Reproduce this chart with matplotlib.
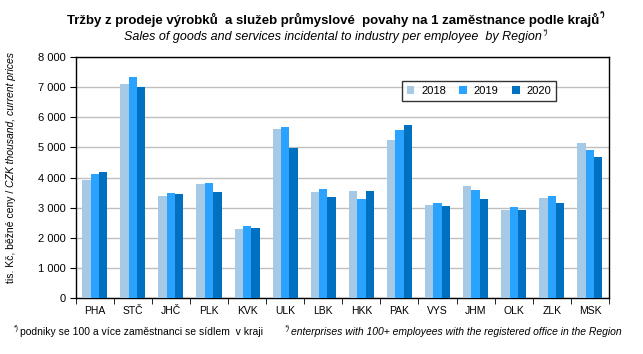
import numpy as np
import matplotlib
matplotlib.use('Agg')
import matplotlib.pyplot as plt

plt.rcParams['font.family'] = ['Liberation Sans', 'DejaVu Sans']

regions = ['PHA', 'STČ', 'JHČ', 'PLK', 'KVK', 'ULK', 'LBK', 'HKK',
           'PAK', 'VYS', 'JHM', 'OLK', 'ZLK', 'MSK']
years = ['2018', '2019', '2020']
v2018 = [3920, 7100, 3390, 3790, 2300, 5610, 3520, 3550, 5240, 3090, 3720, 2920, 3320, 5140]
v2019 = [4120, 7330, 3490, 3820, 2400, 5670, 3620, 3290, 5570, 3160, 3590, 3020, 3390, 4910]
v2020 = [4180, 7000, 3450, 3520, 2330, 4980, 3360, 3550, 5740, 3060, 3290, 2920, 3160, 4680]
colors = ['#A6CAE6', '#29A3FF', '#0070C0']

W, H = 643, 354
fig = plt.figure(figsize=(W / 100, H / 100), dpi=100)
ax = fig.add_axes([0.1177, 0.158, 0.8293, 0.681])

x = np.arange(len(regions))
w = 0.22
for i, (vals, yr) in enumerate(zip([v2018, v2019, v2020], years)):
    ax.bar(x + (i - 1) * w, vals, w, color=colors[i], label=yr, zorder=3)

ax.set_xlim(-0.5, len(regions) - 0.5)
ax.set_ylim(0, 8000)
ax.set_yticks(range(0, 8001, 1000))
ax.set_yticklabels(['{:,}'.format(v).replace(',', ' ') for v in range(0, 8001, 1000)], fontsize=8)
ax.yaxis.grid(True, color='#BFBFBF', linewidth=1, zorder=0)

# category labels centred, ticks between categories
ax.set_xticks(x)
ax.set_xticklabels(regions, fontsize=7.5)
ax.tick_params(axis='x', length=0, pad=6)
ax.set_xticks(np.arange(-0.5, len(regions), 1), minor=True)
ax.tick_params(axis='x', which='minor', length=4, direction='out', color='black')
ax.tick_params(axis='y', length=4, direction='out', color='black', pad=3)

for s in ax.spines.values():
    s.set_color('black')
    s.set_linewidth(1)

leg = ax.legend(loc='upper center', bbox_to_anchor=(0.756, 0.925), ncol=3, fontsize=8,
                frameon=True, fancybox=False, edgecolor='black', handlelength=0.7,
                handleheight=0.7, columnspacing=1.2, handletextpad=0.6,
                borderpad=0.45)
leg.get_frame().set_linewidth(1)

renderer = fig.canvas.get_renderer()


def sup(t, size=5.5, dy=4, **kw):
    # small "*)" right after the end of a text
    bb = t.get_window_extent(renderer)
    fig.text((bb.x1 + 0.5) / W, (bb.y1 - dy) / H, '*)', ha='left', va='bottom', fontsize=size, **kw)


def px(xp, yp):
    return xp / W, 1 - yp / H


t1 = fig.text(*px(333, 20), 'Tržby z prodeje výrobků  a služeb průmyslové  povahy na 1 zaměstnance podle krajů',
              ha='center', va='center', fontsize=9.5, fontweight='bold')
sup(t1, fontweight='bold', dy=5)
t2 = fig.text(*px(333, 37), 'Sales of goods and services incidental to industry per employee  by Region',
              ha='center', va='center', fontsize=9, style='italic')
sup(t2, style='italic', dy=5)

# y label: czech part upright, english part italic
y1 = fig.text(*px(11, 283), 'tis. Kč, běžné ceny / ', rotation=90, ha='center', va='bottom', fontsize=7.5)
bb = y1.get_window_extent(renderer)
fig.text(11 / W, bb.y1 / H, 'CZK thousand, current prices', rotation=90, ha='center', va='bottom',
         fontsize=7.5, style='italic')

f1 = fig.text(*px(20, 332), 'podniky se 100 a více zaměstnanci se sídlem  v kraji', fontsize=7.5, va='center')
fig.text(*px(14, 332), '*)', fontsize=5, va='bottom', ha='left')
fig.text(*px(291, 332), 'enterprises with 100+ employees with the registered office in the Region',
         fontsize=7.5, va='center', style='italic')
fig.text(*px(285, 332), '*)', fontsize=5, va='bottom', ha='left', style='italic')

fig.savefig('out.png', dpi=100)
